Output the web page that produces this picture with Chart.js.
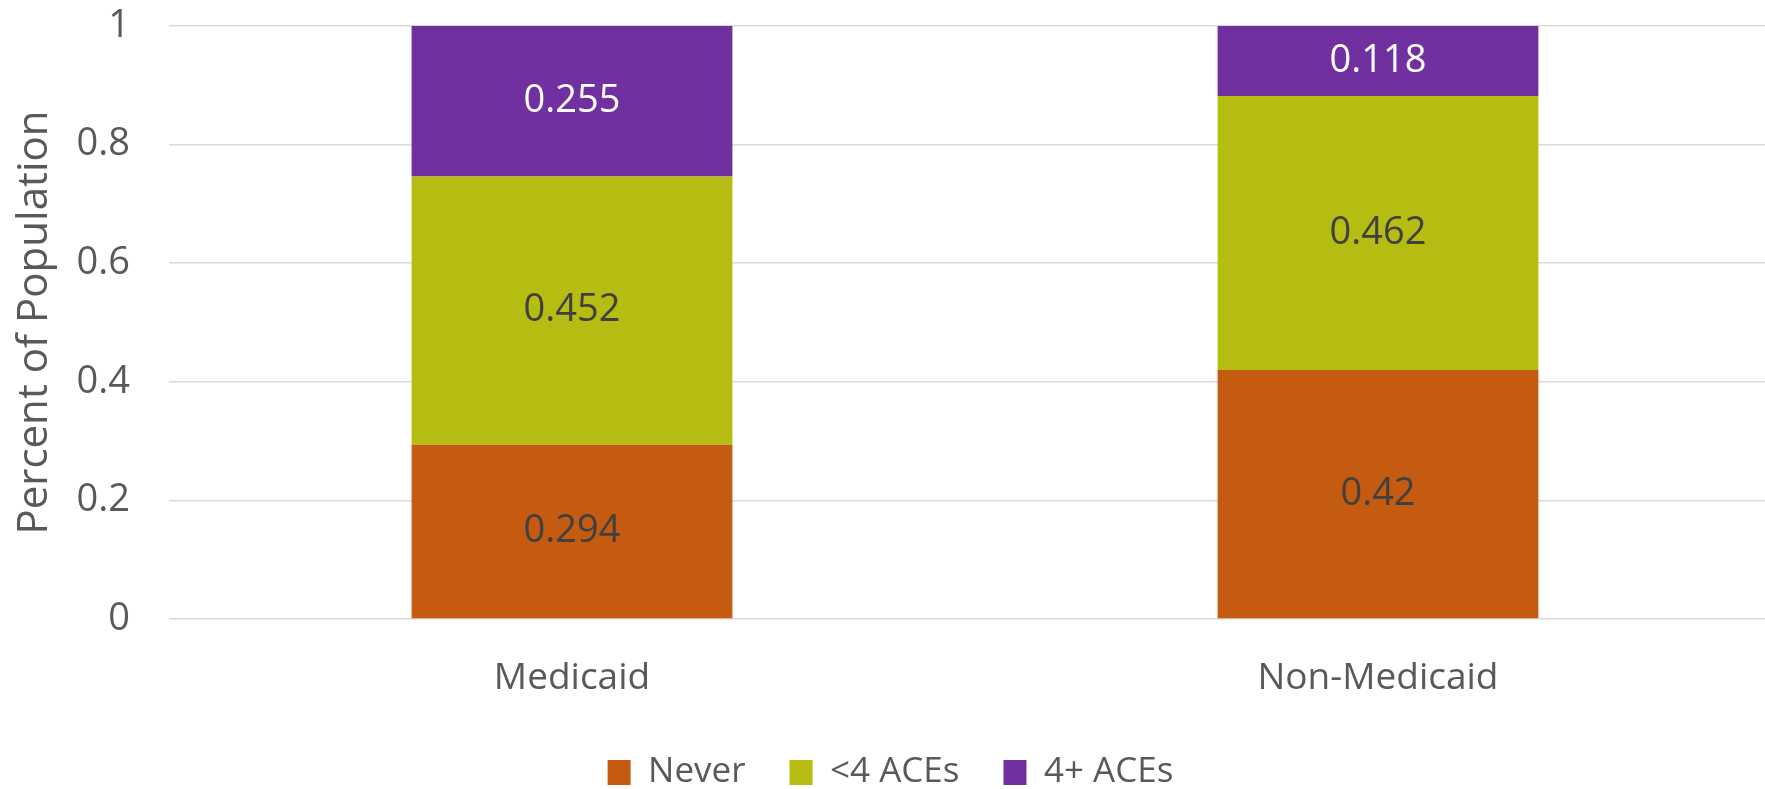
<!DOCTYPE html>
<html>
<head>
<meta charset="utf-8">
<script src="https://cdn.jsdelivr.net/npm/chart.js@4/dist/chart.umd.min.js"></script>
<style>
  html, body { margin: 0; padding: 0; background: #fff; overflow: hidden; }
  #wrap { width: 1781px; height: 789px; }
</style>
</head>
<body>
<div id="wrap"><canvas id="c" width="1781" height="789"></canvas></div>
<script>
// Share of population by ACE group, Medicaid vs non-Medicaid
const categories = ['Medicaid', 'Non-Medicaid'];
const seriesNames = ['Never', '<4 ACEs', '4+ ACEs'];
const never = [0.294, 0.42];
const underFourAces = [0.452, 0.462];
const fourPlusAces = [0.255, 0.118];
const yTicks = [0, 0.2, 0.4, 0.6, 0.8, 1];

const colors = ['#C55A11', '#B5BD12', '#7030A0'];
const labelColors = ['#404040', '#404040', '#FFFFFF'];
const FONT = "'Open Sans', 'DejaVu Sans', sans-serif";

const datasets = [never, underFourAces, fourPlusAces].map((vals, i) => ({
  label: seriesNames[i],
  data: vals,
  backgroundColor: colors[i],
  borderWidth: 0,
  categoryPercentage: 1,
  barPercentage: 0.398,
  stack: 'share'
}));

// Writes each segment's value in the middle of its bar segment
const segmentLabels = {
  id: 'segmentLabels',
  afterDatasetsDraw(chart) {
    const ctx = chart.ctx;
    ctx.save();
    ctx.font = `38px ${FONT}`;
    ctx.textAlign = 'center';
    ctx.textBaseline = 'middle';
    chart.data.datasets.forEach((ds, di) => {
      const meta = chart.getDatasetMeta(di);
      meta.data.forEach((bar, i) => {
        const p = bar.getProps(['x', 'y', 'base'], true);
        ctx.fillStyle = labelColors[di];
        ctx.fillText(String(ds.data[i]), p.x, (p.y + p.base) / 2);
      });
    });
    ctx.restore();
  }
};

new Chart(document.getElementById('c'), {
  type: 'bar',
  data: { labels: categories, datasets },
  plugins: [segmentLabels],
  options: {
    responsive: false,
    animation: false,
    layout: { padding: { top: 26, left: 0, right: 0, bottom: -11 } },
    plugins: {
      tooltip: { enabled: false },
      legend: {
        position: 'bottom',
        labels: {
          boxWidth: 23,
          boxHeight: 25,
          padding: 44,
          color: '#595959',
          font: { family: FONT, size: 35 }
        }
      }
    },
    scales: {
      x: {
        stacked: true,
        grid: { display: false },
        border: { display: false },
        ticks: { color: '#595959', font: { family: FONT, size: 37 }, padding: 29 },
        afterFit(scale) { scale.height = 92; }
      },
      y: {
        stacked: true,
        min: 0,
        max: 1,
        afterBuildTicks(scale) { scale.ticks = yTicks.map(v => ({ value: v })); },
        grid: { color: '#D9D9D9', lineWidth: 1.5, drawTicks: false },
        border: { display: false },
        ticks: {
          color: '#595959',
          font: { family: FONT, size: 38 },
          padding: 39,
          callback: v => String(v)
        },
        title: {
          display: true,
          text: 'Percent of Population',
          color: '#595959',
          font: { family: FONT, size: 42 },
          padding: { top: 10, bottom: 0 }
        },
        afterFit(scale) {
          scale.width = 169;
          scale.paddingTop = 0;
          scale.paddingBottom = 0;
        }
      }
    }
  }
});
</script>
</body>
</html>
